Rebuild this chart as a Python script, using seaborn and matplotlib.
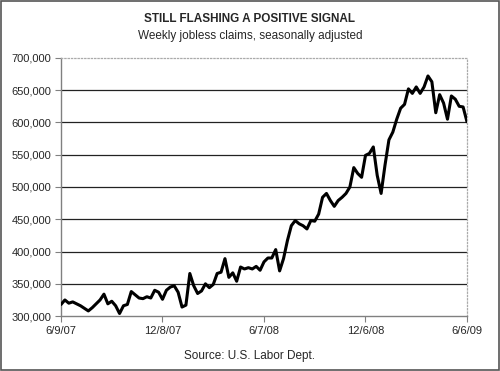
import matplotlib
matplotlib.use('Agg')
import matplotlib.pyplot as plt
import seaborn as sns
import pandas as pd
from matplotlib.patches import Rectangle
from matplotlib.ticker import FuncFormatter

# weekly initial claims (thousands), 6/9/07 .. 6/6/09
claims_k = [
    318, 325, 320, 322, 319, 316, 312, 308, 313, 319,
    325, 334, 319, 323, 316, 304, 316, 318, 338, 333,
    328, 327, 330, 328, 340, 337, 326, 340, 345, 347,
    337, 314, 317, 366, 347, 335, 339, 350, 344, 349,
    366, 368, 389, 360, 367, 354, 376, 373, 375, 373,
    377, 371, 384, 390, 390, 403, 370, 389, 417, 440,
    448, 443, 440, 435, 448, 447, 458, 484, 490, 479,
    470, 479, 484, 490, 500, 530, 521, 515, 549, 552,
    562, 518, 490, 534, 573, 585, 605, 622, 628, 652,
    645, 655, 645, 655, 672, 663, 615, 643, 630, 605,
    641, 636, 625, 624, 601,
]
start_date = '2007-06-09'
xtick_labels = ['6/9/07', '12/8/07', '6/7/08', '12/6/08', '6/6/09']
ytick_values = [300000, 350000, 400000, 450000, 500000, 550000, 600000, 650000, 700000]

title = 'STILL FLASHING A POSITIVE SIGNAL'
subtitle = 'Weekly jobless claims, seasonally adjusted'
source = 'Source: U.S. Labor Dept.'

df = pd.DataFrame({
    'week': pd.date_range(start_date, periods=len(claims_k), freq='7D'),
    'claims': [v * 1000 for v in claims_k],
})

sns.set_style('white')
plt.rcParams['font.family'] = ['Liberation Sans', 'DejaVu Sans']

fig = plt.figure(figsize=(5, 3.71), dpi=100)
ax = fig.add_axes([0.122, 0.148, 0.812, 0.696])

# horizontal grid lines (inner ones only)
for v in ytick_values[1:-1]:
    ax.axhline(v, color='#222222', lw=0.9, zorder=1)

sns.lineplot(data=df, x='week', y='claims', color='black', lw=2.2, ax=ax, zorder=3)

ax.set_ylim(ytick_values[0], ytick_values[-1])
ax.set_xlim(df['week'].iloc[0], df['week'].iloc[-1])
ax.set_yticks(ytick_values)
ax.yaxis.set_major_formatter(FuncFormatter(lambda v, p: f'{int(v):,}'))
ax.set_xticks(df['week'].iloc[::26])
ax.set_xticklabels(xtick_labels)
ax.set_xlabel('')
ax.set_ylabel('')

ax.tick_params(axis='both', labelsize=8, length=4, width=0.8, color='#808080',
               direction='out', pad=3, left=True, bottom=True)

for side in ['left', 'bottom']:
    ax.spines[side].set_color('#808080')
    ax.spines[side].set_linewidth(1)
for side in ['top', 'right']:
    ax.spines[side].set_color('#aaaaaa')
    ax.spines[side].set_linestyle(':')
    ax.spines[side].set_linewidth(0.9)

fig.text(0.5, 0.948, title, ha='center', va='center', fontsize=8.5, fontweight='bold')
fig.text(0.5, 0.903, subtitle, ha='center', va='center', fontsize=8.5)
fig.text(0.5, 0.04, source, ha='center', va='center', fontsize=8.5)

# frame around the whole chart
fig.patches.append(Rectangle((0.002, 0.003), 0.995, 0.993, transform=fig.transFigure,
                             fill=False, edgecolor='#555555', lw=1.2))

fig.savefig('out.png', dpi=100)
